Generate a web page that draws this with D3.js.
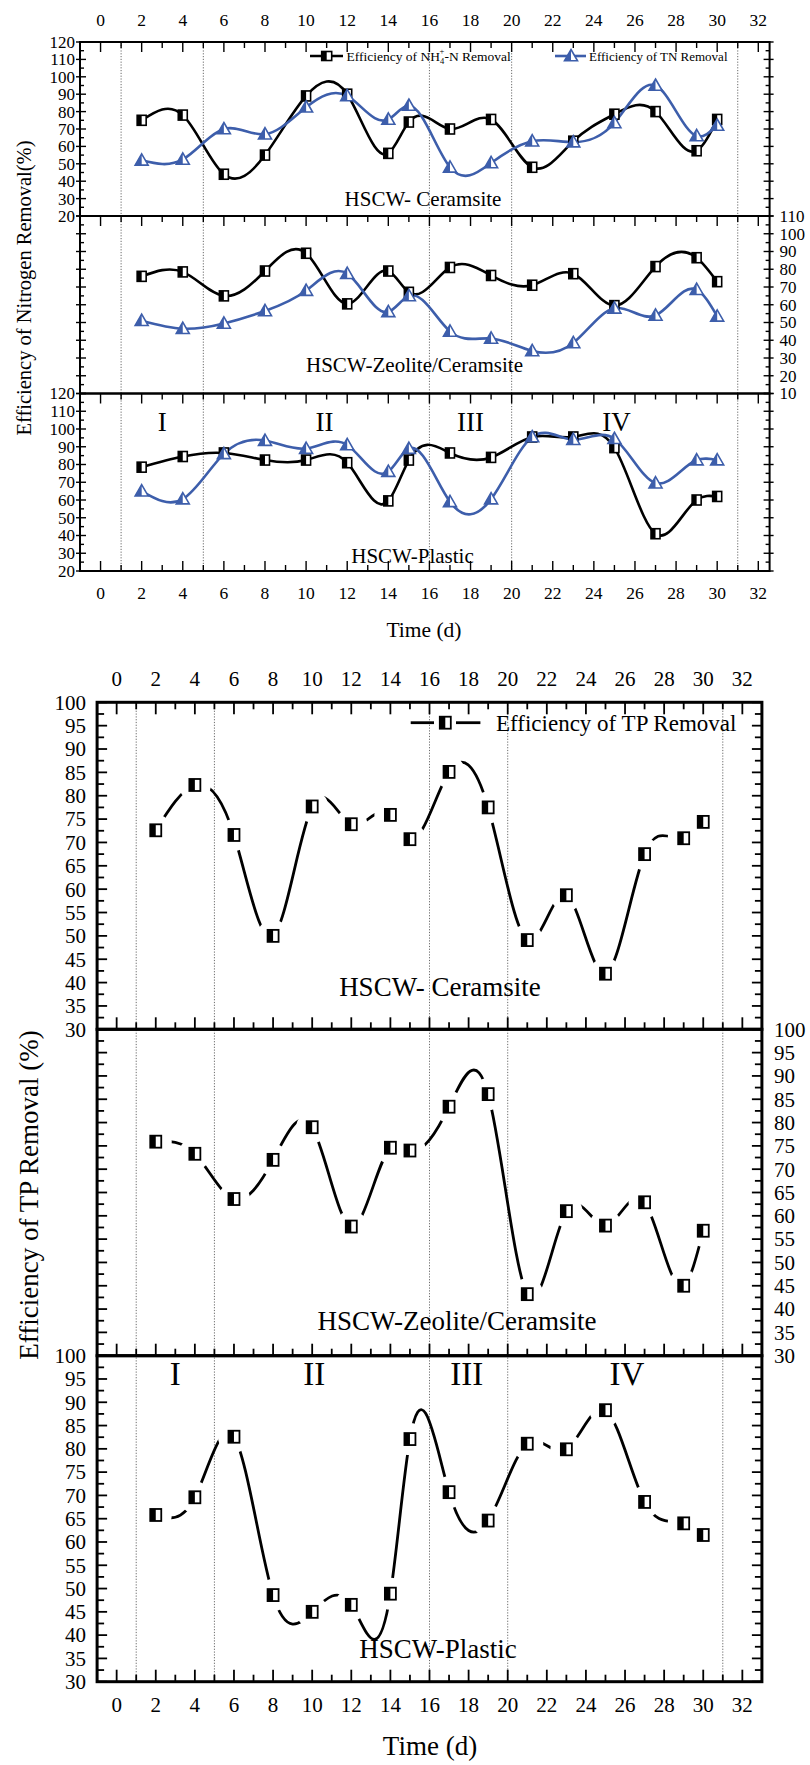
<!DOCTYPE html>
<html><head><meta charset="utf-8">
<script src="https://cdn.jsdelivr.net/npm/d3@7"></script>
<style>
body{margin:0;background:#fff}
svg text{font-family:"Liberation Serif","Times New Roman",Times,serif;fill:#000}
</style>
</head><body>
<svg id="c" width="810" height="1765"></svg>
<script>
// ---------- data ----------
const days = [2,4,6,8,10,12,14,15,17,19,21,23,25,27,29,30];
const dayTicks = d3.range(0, 33, 2);
const phaseDays = [1,5,16,20,31];
const phaseLabels = ["I","II","III","IV"];
const phaseLabelDays1 = [3, 10.9, 18, 25.1];
const phaseLabelDays2 = [3, 10.1, 17.9, 26.1];

const nh4Ceramsite = [75, 78, 44, 55, 89, 90, 56, 74, 70, 75.5, 48, 63, 78.5, 80, 57.5, 75.5];
const tnCeramsite  = [52, 52.5, 70, 67, 82.5, 89, 75.5, 83.5, 48, 50.5, 63, 62.5, 73.5, 95, 66, 72];
const nh4Zeolite   = [76, 78.5, 65, 79, 89, 60.5, 79, 67, 81, 76.5, 71, 77.5, 59.5, 81.5, 86.5, 73];
const tnZeolite    = [51, 46.5, 49.5, 56.5, 68, 77.5, 56, 65, 45, 41, 34, 38.5, 58, 54, 68.5, 53.5];
const nh4Plastic   = [78.5, 84.5, 86.5, 82.5, 82.5, 81, 59.5, 82.5, 86.5, 84, 95.5, 95.5, 89.5, 41, 60, 62];
const tnPlastic    = [65, 60.5, 86, 93.5, 89, 91, 76, 89, 59, 60.5, 95.5, 94, 94.5, 69.5, 82.5, 82.5];

const tpCeramsite = [72.6, 82.3, 71.6, 50, 77.7, 73.9, 75.9, 70.7, 85.1, 77.5, 49.1, 58.7, 41.9, 67.5, 70.9, 74.4];
const tpZeolite   = [75.9, 73.3, 63.6, 72, 79, 57.7, 74.6, 74, 83.4, 86.1, 43.2, 61, 57.9, 62.9, 45, 56.8];
const tpPlastic   = [65.8, 69.6, 82.6, 48.6, 45, 46.5, 48.9, 82.1, 70.7, 64.6, 81.1, 79.9, 88.3, 68.6, 64, 61.5];

const nitroTicks = d3.range(20, 121, 10);
const nitroRightTicks = d3.range(10, 111, 10);
const tpTicks = d3.range(30, 101, 5);

const panelNames1 = ["HSCW- Ceramsite", "HSCW-Zeolite/Ceramsite", "HSCW-Plastic"];
const panelNames2 = ["HSCW- Ceramsite", "HSCW-Zeolite/Ceramsite", "HSCW-Plastic"];

// ---------- custom d3 curve: natural cubic spline y(x) ----------
function NaturalX(context) { this._context = context; }
NaturalX.prototype = {
  areaStart() {}, areaEnd() {},
  lineStart() { this._x = []; this._y = []; },
  point(x, y) { this._x.push(+x); this._y.push(+y); },
  lineEnd() {
    const X = this._x, Y = this._y, n = X.length, c = this._context;
    if (!n) return;
    c.moveTo(X[0], Y[0]);
    if (n === 2) { c.lineTo(X[1], Y[1]); return; }
    const h = [], M = new Array(n).fill(0);
    for (let i = 0; i < n - 1; i++) h.push(X[i + 1] - X[i]);
    const a = [], b = [], cc = [], d = [];
    for (let i = 1; i < n - 1; i++) {
      a.push(h[i - 1]); b.push(2 * (h[i - 1] + h[i])); cc.push(h[i]);
      d.push(6 * ((Y[i + 1] - Y[i]) / h[i] - (Y[i] - Y[i - 1]) / h[i - 1]));
    }
    const m = b.length;
    for (let i = 1; i < m; i++) {
      const w = a[i] / b[i - 1];
      b[i] -= w * cc[i - 1]; d[i] -= w * d[i - 1];
    }
    const sol = new Array(m);
    sol[m - 1] = d[m - 1] / b[m - 1];
    for (let i = m - 2; i >= 0; i--) sol[i] = (d[i] - cc[i] * sol[i + 1]) / b[i];
    for (let i = 0; i < m; i++) M[i + 1] = sol[i];
    const s = [];
    for (let i = 0; i < n - 1; i++) s.push((Y[i + 1] - Y[i]) / h[i] - h[i] * (2 * M[i] + M[i + 1]) / 6);
    s.push((Y[n - 1] - Y[n - 2]) / h[n - 2] + h[n - 2] * (M[n - 2] + 2 * M[n - 1]) / 6);
    for (let i = 0; i < n - 1; i++) {
      const hh = h[i];
      c.bezierCurveTo(X[i] + hh / 3, Y[i] + s[i] * hh / 3, X[i + 1] - hh / 3, Y[i + 1] - s[i + 1] * hh / 3, X[i + 1], Y[i + 1]);
    }
  }
};
const curveNaturalX = ctx => new NaturalX(ctx);

// ---------- drawing ----------
const svg = d3.select("#c");
const defs = svg.append("defs");
const BLUE = "#3d5eab";

function squareMarker(g, w, h, sw) {
  g.append("rect").attr("x", -w/2).attr("y", -h/2).attr("width", w).attr("height", h)
    .attr("fill", "#fff").attr("stroke", "#000").attr("stroke-width", sw);
  g.append("rect").attr("x", -w/2).attr("y", -h/2).attr("width", w/2).attr("height", h)
    .attr("fill", "#000");
}
function triMarker(g) {
  g.append("path").attr("d", "M0,-6.5L6.5,4.8L-6.5,4.8Z").attr("fill", "#fff")
    .attr("stroke", BLUE).attr("stroke-width", 1.6).attr("stroke-linejoin", "miter");
  g.append("path").attr("d", "M0,-6.5L0,4.8L-6.5,4.8Z").attr("fill", BLUE);
}

function xTicks(g, x, y, dir, majorLen, minorLen, sw) {
  const dd = d3.range(0, 33, 1);
  g.selectAll(null).data(dd).join("line")
    .attr("x1", d => x(d)).attr("x2", d => x(d))
    .attr("y1", y).attr("y2", d => y + dir * (d % 2 === 0 ? majorLen : minorLen))
    .attr("stroke", "#000").attr("stroke-width", sw);
}
function yTicks(g, y, x, dir, vals, isMajor, majorLen, minorLen, sw, outLen) {
  g.selectAll(null).data(vals).join("line")
    .attr("y1", d => y(d)).attr("y2", d => y(d))
    .attr("x1", d => x - (isMajor(d) ? outLen * dir : 0))
    .attr("x2", d => x + dir * (isMajor(d) ? majorLen : minorLen))
    .attr("stroke", "#000").attr("stroke-width", sw);
}

// ===== Chart 1 : nitrogen =====
(function(){
  const g = svg.append("g");
  const x = d3.scaleLinear().domain([-1, 32.55]).range([80, 769.6]);
  const L = x.range()[0], R = x.range()[1];
  const panels = [
    {top: 42, bot: 216, dom: [20,120], left: true, right: false, s: [nh4Ceramsite, tnCeramsite], nx: 423, ny: 206},
    {top: 216, bot: 393.5, dom: [10,110], left: false, right: true, s: [nh4Zeolite, tnZeolite], nx: 414.5, ny: 372},
    {top: 393.5, bot: 571, dom: [20,120], left: true, right: false, s: [nh4Plastic, tnPlastic], nx: 412.5, ny: 563}
  ];
  g.selectAll(null).data(phaseDays).join("line")
    .attr("x1", d => x(d)).attr("x2", d => x(d)).attr("y1", 42).attr("y2", 571)
    .attr("stroke", "#444").attr("stroke-width", 0.8).attr("stroke-dasharray", "1.2,1.6");

  panels.forEach((p, i) => {
    const y = d3.scaleLinear().domain(p.dom).range([p.bot, p.top]);
    const tickVals = d3.range(p.dom[0], p.dom[1] + 0.1, 5);
    const isMaj = d => (d - p.dom[0]) % 10 === 0;
    yTicks(g, y, L, 1, tickVals, isMaj, 6, 4, 1.4, 4);
    yTicks(g, y, R, -1, tickVals, isMaj, 6, 4, 1.4, 4);
    xTicks(g, x, p.top, 1, 10, 6, 1.4);
    if (i === 2) xTicks(g, x, p.bot, -1, 10, 6, 1.4);
    g.append("rect").attr("x", L).attr("y", p.top).attr("width", R - L).attr("height", p.bot - p.top)
      .attr("fill", "none").attr("stroke", "#000").attr("stroke-width", 2);
    if (p.left) {
      g.selectAll(null).data(nitroTicks).join("text")
        .attr("x", L - 5).attr("y", d => y(d)).attr("dy", "0.35em")
        .attr("text-anchor", "end").attr("font-size", 17).text(d => d);
    }
    if (p.right) {
      g.selectAll(null).data(nitroRightTicks).join("text")
        .attr("x", R + 10).attr("y", d => y(d)).attr("dy", "0.35em")
        .attr("text-anchor", "start").attr("font-size", 17).text(d => d);
    }
    const line = d3.line().x((d, j) => x(days[j])).y(d => y(d)).curve(curveNaturalX);
    g.append("path").datum(p.s[0]).attr("d", line).attr("fill", "none").attr("stroke", "#000").attr("stroke-width", 2.6);
    g.append("path").datum(p.s[1]).attr("d", line).attr("fill", "none").attr("stroke", BLUE).attr("stroke-width", 2.6);
    p.s[0].forEach((v, j) => squareMarker(g.append("g").attr("transform", `translate(${x(days[j])},${y(v)})`), 9, 10, 1.6));
    p.s[1].forEach((v, j) => triMarker(g.append("g").attr("transform", `translate(${x(days[j])},${y(v)})`)));
    g.append("text").attr("x", p.nx).attr("y", p.ny).attr("text-anchor", "middle")
      .attr("font-size", 21).text(panelNames1[i]);
  });
  g.selectAll(null).data(phaseLabels).join("text")
    .attr("x", (d, i) => x(phaseLabelDays1[i])).attr("y", 431).attr("text-anchor", "middle")
    .attr("font-size", 27).text(d => d);
  g.selectAll(null).data(dayTicks).join("text")
    .attr("x", d => x(d)).attr("y", 20).attr("dy", "0.35em").attr("text-anchor", "middle")
    .attr("font-size", 17.5).text(d => d);
  g.selectAll(null).data(dayTicks).join("text")
    .attr("x", d => x(d)).attr("y", 593).attr("dy", "0.35em").attr("text-anchor", "middle")
    .attr("font-size", 17.5).text(d => d);
  g.append("text").attr("x", 424).attr("y", 637).attr("text-anchor", "middle").attr("font-size", 21.5).text("Time (d)");
  g.append("text").attr("transform", "translate(31,288) rotate(-90)").attr("text-anchor", "middle")
    .attr("font-size", 20.5).text("Efficiency of Nitrogen Removal(%)");
  // legend
  const ly = 56;
  g.append("line").attr("x1", 310).attr("x2", 343).attr("y1", ly).attr("y2", ly).attr("stroke", "#000").attr("stroke-width", 2.6);
  squareMarker(g.append("g").attr("transform", `translate(326.7,${ly})`), 10, 9, 1.6);
  const t1 = g.append("text").attr("x", 346.5).attr("y", ly + 4.5).attr("font-size", 13.5);
  t1.append("tspan").text("Efficiency of NH");
  t1.append("tspan").attr("dy", 3.5).attr("font-size", 8.5).text("4");
  t1.append("tspan").attr("dx", -4.6).attr("dy", -10).attr("font-size", 8.5).text("+");
  t1.append("tspan").attr("dy", 6.5).text("-N Removal");
  g.append("line").attr("x1", 555).attr("x2", 586).attr("y1", ly).attr("y2", ly).attr("stroke", BLUE).attr("stroke-width", 2.6);
  triMarker(g.append("g").attr("transform", `translate(571,${ly})`));
  g.append("text").attr("x", 589).attr("y", ly + 4.5).attr("font-size", 13).text("Efficiency of TN Removal");
})();

// ===== Chart 2 : TP =====
(function(){
  const g = svg.append("g");
  const x = d3.scaleLinear().domain([-1, 33]).range([97.1, 761.9]);
  const L = x.range()[0], R = x.range()[1];
  const panels = [
    {top: 702.3, bot: 1029.3, left: true, right: false, s: tpCeramsite, nx: 440, ny: 996},
    {top: 1029.3, bot: 1355.7, left: false, right: true, s: tpZeolite, nx: 457, ny: 1330},
    {top: 1355.7, bot: 1681.7, left: true, right: false, s: tpPlastic, nx: 438, ny: 1658}
  ];
  g.selectAll(null).data(phaseDays).join("line")
    .attr("x1", d => x(d)).attr("x2", d => x(d)).attr("y1", 702.3).attr("y2", 1681.7)
    .attr("stroke", "#444").attr("stroke-width", 0.8).attr("stroke-dasharray", "1.2,1.6");

  panels.forEach((p, i) => {
    const y = d3.scaleLinear().domain([30, 100]).range([p.bot, p.top]);
    const tickVals = d3.range(30, 100.1, 2.5);
    const isMaj = d => d % 5 === 0;
    yTicks(g, y, L, 1, tickVals, isMaj, 10, 7, 1.8, 0);
    yTicks(g, y, R, -1, tickVals, isMaj, 10, 7, 1.8, 0);
    xTicks(g, x, p.bot, -1, 12, 7, 1.8);
    if (i === 0) xTicks(g, x, p.top, 1, 12, 7, 1.8);
    g.append("rect").attr("x", L).attr("y", p.top).attr("width", R - L).attr("height", p.bot - p.top)
      .attr("fill", "none").attr("stroke", "#000").attr("stroke-width", 3);
    if (p.left) {
      g.selectAll(null).data(tpTicks).join("text")
        .attr("x", L - 11).attr("y", d => y(d)).attr("dy", "0.35em")
        .attr("text-anchor", "end").attr("font-size", 21).text(d => d);
    }
    if (p.right) {
      g.selectAll(null).data(tpTicks).join("text")
        .attr("x", R + 12).attr("y", d => y(d)).attr("dy", "0.35em")
        .attr("text-anchor", "start").attr("font-size", 21).text(d => d);
    }
    const m = defs.append("mask").attr("id", "gap" + i).attr("maskUnits", "userSpaceOnUse")
      .attr("x", 0).attr("y", 0).attr("width", 810).attr("height", 1765);
    m.append("rect").attr("x", 0).attr("y", 0).attr("width", 810).attr("height", 1765).attr("fill", "#fff");
    m.selectAll(null).data(p.s).join("circle")
      .attr("cx", (d, j) => x(days[j])).attr("cy", d => y(d)).attr("r", 16).attr("fill", "#000");
    const line = d3.line().x((d, j) => x(days[j])).y(d => y(d)).curve(curveNaturalX);
    g.append("path").datum(p.s).attr("d", line).attr("fill", "none").attr("stroke", "#000")
      .attr("stroke-width", 2.8).attr("mask", `url(#gap${i})`);
    p.s.forEach((v, j) => squareMarker(g.append("g").attr("transform", `translate(${x(days[j])},${y(v)})`), 11, 12, 1.8));
    g.append("text").attr("x", p.nx).attr("y", p.ny).attr("text-anchor", "middle")
      .attr("font-size", 27).text(panelNames2[i]);
  });
  g.selectAll(null).data(phaseLabels).join("text")
    .attr("x", (d, i) => x(phaseLabelDays2[i])).attr("y", 1385).attr("text-anchor", "middle")
    .attr("font-size", 33).text(d => d);
  g.selectAll(null).data(dayTicks).join("text")
    .attr("x", d => x(d)).attr("y", 678.3).attr("dy", "0.35em").attr("text-anchor", "middle")
    .attr("font-size", 21).text(d => d);
  g.selectAll(null).data(dayTicks).join("text")
    .attr("x", d => x(d)).attr("y", 1705).attr("dy", "0.35em").attr("text-anchor", "middle")
    .attr("font-size", 21).text(d => d);
  g.append("text").attr("x", 430).attr("y", 1755).attr("text-anchor", "middle").attr("font-size", 27).text("Time (d)");
  g.append("text").attr("transform", "translate(38,1195) rotate(-90)").attr("text-anchor", "middle")
    .attr("font-size", 27).text("Efficiency of TP Removal (%)");
  const ly = 722.7;
  g.append("line").attr("x1", 410.7).attr("x2", 434).attr("y1", ly).attr("y2", ly).attr("stroke", "#000").attr("stroke-width", 2.8);
  g.append("line").attr("x1", 456).attr("x2", 480.4).attr("y1", ly).attr("y2", ly).attr("stroke", "#000").attr("stroke-width", 2.8);
  squareMarker(g.append("g").attr("transform", `translate(445.3,${ly})`), 11, 12, 1.8);
  g.append("text").attr("x", 496).attr("y", 731).attr("font-size", 23).text("Efficiency of TP Removal");
})();
</script>
</body></html>
